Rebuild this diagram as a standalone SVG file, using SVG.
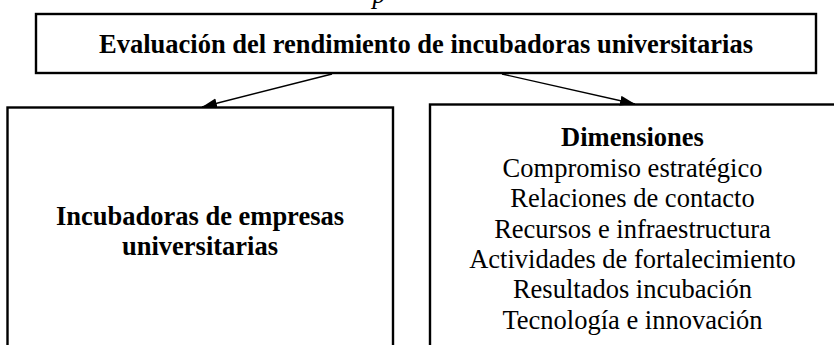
<svg xmlns="http://www.w3.org/2000/svg" width="834" height="345" viewBox="0 0 834 345">
<style>
.box{fill:#fff;stroke:#000;stroke-width:2.4}
.t{font-family:"Liberation Serif","Times New Roman",serif;font-size:26.5px;fill:#000;text-anchor:middle}
.b{font-weight:bold}
.conn{stroke:#000;stroke-width:1.4;fill:none}
</style>
<defs>
<marker id="ah" markerUnits="userSpaceOnUse" markerWidth="16" markerHeight="12" refX="15" refY="5" orient="auto">
<path d="M0,0 L15,5 L0,10 Z" fill="#000"/>
</marker>
</defs>
<rect width="834" height="345" fill="#fff"/>
<text class="t" x="379" y="3" font-style="italic">p</text>
<g id="top">
<rect class="box" x="36" y="14" width="780" height="59"/>
<text class="t b" x="426" y="53">Evaluación del rendimiento de incubadoras universitarias</text>
</g>
<g id="left">
<rect class="box" x="7.5" y="107.5" width="385.5" height="260"/>
<text class="t b" x="200" y="225">Incubadoras de empresas</text>
<text class="t b" x="200" y="255">universitarias</text>
</g>
<g id="right">
<rect class="box" x="430" y="104.5" width="410" height="260"/>
<text class="t b" x="632.5" y="146">Dimensiones</text>
<text class="t" x="632.5" y="177">Compromiso estratégico</text>
<text class="t" x="632.5" y="207.3">Relaciones de contacto</text>
<text class="t" x="632.5" y="237.6">Recursos e infraestructura</text>
<text class="t" x="632.5" y="268">Actividades de fortalecimiento</text>
<text class="t" x="632.5" y="298.2">Resultados incubación</text>
<text class="t" x="632.5" y="328.5">Tecnología e innovación</text>
</g>
<g id="connectors">
<line class="conn" x1="332" y1="74" x2="202" y2="107" marker-end="url(#ah)"/>
<line class="conn" x1="502" y1="74" x2="635" y2="104" marker-end="url(#ah)"/>
</g>
</svg>
